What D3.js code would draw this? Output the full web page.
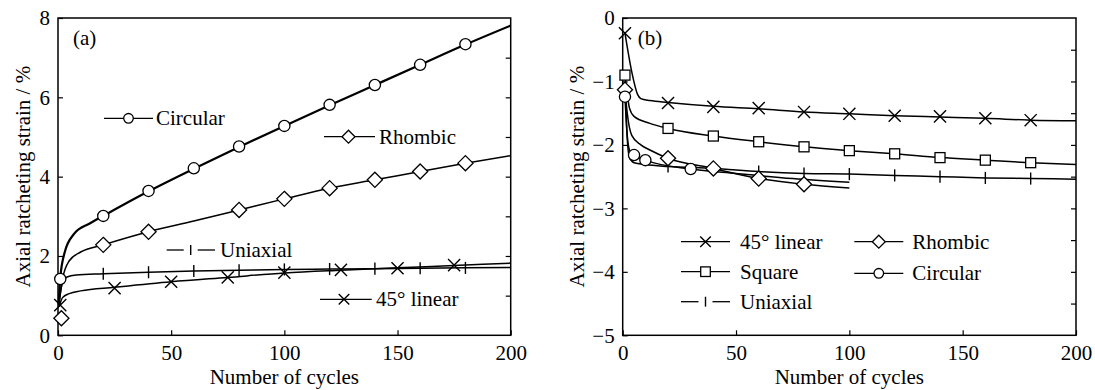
<!DOCTYPE html>
<meta charset="utf-8">
<script src="https://d3js.org/d3.v7.min.js"></script>
<style>
  body { margin: 0; background: #fff; }
</style>
<body>
<div id="chart"></div>
<script>

// ---- panel (a) data : [cycle, axial ratcheting strain %] ----
var circA_line = [[0.3,0.78],[1,1.45],[3,2.1],[7,2.55],[14,2.82],[20,3.01],[40,3.63],[60,4.2],[80,4.75],[100,5.28],[120,5.8],[140,6.31],[160,6.82],[180,7.33],[200,7.81]];
var circA_pts  = [[1,1.42],[20,3.01],[40,3.64],[60,4.21],[80,4.76],[100,5.28],[120,5.81],[140,6.31],[160,6.82],[180,7.34]];
var rhomA_line = [[0.3,0.72],[2,1.42],[5,1.88],[10,2.1],[20,2.28],[40,2.61],[60,2.88],[80,3.16],[100,3.44],[120,3.71],[140,3.92],[160,4.13],[180,4.34],[200,4.53]];
var rhomA_pts  = [[1.5,0.43],[20,2.28],[40,2.61],[80,3.16],[100,3.44],[120,3.71],[140,3.92],[160,4.13],[180,4.34]];
var uniA_line  = [[0.3,0.72],[1,1.05],[2,1.32],[4,1.47],[8,1.52],[20,1.55],[40,1.59],[60,1.62],[80,1.64],[100,1.66],[120,1.67],[140,1.68],[160,1.69],[180,1.70],[200,1.71]];
var uniA_pts   = [[20,1.55],[40,1.59],[60,1.62],[80,1.64],[100,1.66],[120,1.67],[140,1.68],[160,1.69],[180,1.70]];
var linA_line  = [[0.5,0.72],[2,0.95],[5,1.05],[10,1.12],[25,1.21],[50,1.35],[75,1.46],[100,1.57],[125,1.64],[150,1.70],[175,1.76],[200,1.82]];
var linA_pts   = [[1,0.76],[25,1.19],[50,1.35],[75,1.46],[100,1.58],[125,1.65],[150,1.69],[175,1.77]];

// ---- panel (b) data ----
var linB_line  = [[1,-0.24],[4,-0.85],[6.5,-1.2],[8,-1.27],[12,-1.3],[20,-1.33],[40,-1.39],[60,-1.43],[80,-1.48],[100,-1.51],[120,-1.54],[140,-1.56],[160,-1.58],[180,-1.61],[200,-1.62]];
var linB_pts   = [[1,-0.24],[20,-1.34],[40,-1.40],[60,-1.42],[80,-1.48],[100,-1.51],[120,-1.54],[140,-1.55],[160,-1.58],[180,-1.61]];
var sqB_line   = [[1,-0.9],[2,-1.2],[3,-1.42],[5,-1.55],[12,-1.66],[20,-1.74],[40,-1.86],[60,-1.95],[80,-2.03],[100,-2.09],[120,-2.14],[140,-2.2],[160,-2.24],[180,-2.28],[200,-2.31]];
var sqB_pts    = [[1,-0.9],[20,-1.74],[40,-1.86],[60,-1.95],[80,-2.03],[100,-2.09],[120,-2.14],[140,-2.2],[160,-2.24],[180,-2.28]];
var uniB_line  = [[1,-1.0],[2,-1.9],[3,-2.2],[5,-2.28],[10,-2.31],[20,-2.34],[40,-2.37],[60,-2.42],[80,-2.45],[100,-2.46],[120,-2.48],[140,-2.5],[160,-2.52],[180,-2.53],[200,-2.54]];
var uniB_pts   = [[20,-2.34],[40,-2.37],[60,-2.42],[80,-2.45],[100,-2.46],[120,-2.48],[140,-2.5],[160,-2.52],[180,-2.53]];
var rhomB_line = [[1,-1.13],[2,-1.5],[4,-1.85],[8,-2.0],[12,-2.08],[20,-2.21],[40,-2.37],[60,-2.53],[80,-2.62],[100,-2.68]];
var rhomB_pts  = [[1,-1.13],[20,-2.21],[40,-2.37],[60,-2.53],[80,-2.62]];
var circB_line = [[1,-1.24],[2,-1.85],[3,-2.08],[5,-2.16],[10,-2.24],[30,-2.38],[50,-2.45],[75,-2.53],[100,-2.59]];
var circB_pts  = [[1,-1.24],[5,-2.16],[10,-2.24],[30,-2.38]];

// ticks
var xTicks   = [0, 50, 100, 150, 200];
var yTicksA  = [0, 2, 4, 6, 8];
var yMinorA  = [1, 2, 3, 4, 5, 6, 7];
var yTicksB  = [0, -1, -2, -3, -4, -5];
var yMinorB  = [-0.5, -1, -1.5, -2, -2.5, -3, -3.5, -4, -4.5];

var FONT = "'Liberation Serif'";

var svg = d3.select("#chart").append("svg")
    .attr("width", 1095)
    .attr("height", 390);

// minus sign as in the figure
function fmt(d) { return d < 0 ? "\u2212" + Math.abs(d) : String(d); }

// all text in the same serif face
function addText(g, x, y, str) {
  return g.append("text")
    .attr("x", x).attr("y", y)
    .style("font-family", FONT)
    .style("font-size", "21px")
    .attr("fill", "#000")
    .text(str);
}

// draw one marker of a given kind at (cx, cy)
function marker(g, kind, cx, cy, s) {
  if (kind == "circle") {
    g.append("circle").attr("cx", cx).attr("cy", cy).attr("r", s)
      .attr("fill", "#fff").attr("stroke", "#000").attr("stroke-width", 1.3);
  } else if (kind == "diamond") {
    var d = s * 1.35;
    g.append("path")
      .attr("d", "M" + cx + "," + (cy - d) + "L" + (cx + d) + "," + cy + "L" + cx + "," + (cy + d) + "L" + (cx - d) + "," + cy + "Z")
      .attr("fill", "#fff").attr("stroke", "#000").attr("stroke-width", 1.3);
  } else if (kind == "square") {
    g.append("rect").attr("x", cx - s).attr("y", cy - s).attr("width", 2 * s).attr("height", 2 * s)
      .attr("fill", "#fff").attr("stroke", "#000").attr("stroke-width", 1.3);
  } else if (kind == "x") {
    var k = s * 1.1;
    g.append("path")
      .attr("d", "M" + (cx - k) + "," + (cy - k) + "L" + (cx + k) + "," + (cy + k) + "M" + (cx - k) + "," + (cy + k) + "L" + (cx + k) + "," + (cy - k))
      .attr("fill", "none").attr("stroke", "#000").attr("stroke-width", 1.4);
  } else if (kind == "bar") {
    g.append("line").attr("x1", cx).attr("x2", cx).attr("y1", cy - s * 1.1).attr("y2", cy + s * 1.1)
      .attr("stroke", "#000").attr("stroke-width", 1.4);
  }
}

function styleAxis(a) {
  a.select(".domain").remove();
  a.selectAll("text")
    .style("font-family", FONT)
    .style("font-size", "21px")
    .attr("fill", "#000");
}

function drawPanel(p) {
  var x = d3.scaleLinear().domain([0, 200]).range([p.left, p.right]);
  var y = d3.scaleLinear().domain(p.yDomain).range([p.bottom, p.top]);
  var g = svg.append("g");

  // left axis, ticks pointing inward
  g.append("g")
    .attr("transform", "translate(" + p.left + ",0)")
    .call(d3.axisLeft(y).tickValues(p.yTicks).tickFormat(fmt).tickSizeInner(-5).tickSizeOuter(0).tickPadding(8))
    .call(styleAxis);

  // right axis, minor ticks only
  g.append("g")
    .attr("transform", "translate(" + p.right + ",0)")
    .call(d3.axisRight(y).tickValues(p.yMinor).tickSizeInner(-5).tickSizeOuter(0).tickFormat(""))
    .call(styleAxis);

  // bottom axis
  g.append("g")
    .attr("transform", "translate(0," + p.bottom + ")")
    .call(d3.axisBottom(x).tickValues(xTicks).tickFormat(fmt).tickSizeInner(-5).tickSizeOuter(0).tickPadding(10))
    .call(styleAxis);

  g.selectAll(".tick line").attr("stroke-width", 1.2);

  // frame
  g.append("rect")
    .attr("x", p.left).attr("y", p.top)
    .attr("width", p.right - p.left).attr("height", p.bottom - p.top)
    .attr("fill", "none").attr("stroke", "#000").attr("stroke-width", 1.5);

  var line = d3.line()
    .x(function(d) { return x(d[0]); })
    .y(function(d) { return y(d[1]); })
    .curve(d3.curveMonotoneX);

  p.series.forEach(function(s) {
    g.append("path")
      .datum(s.line)
      .attr("fill", "none")
      .attr("stroke", "#000")
      .attr("stroke-width", s.width || 1.5)
      .attr("d", line);
  });
  p.series.forEach(function(s) {
    s.pts.forEach(function(d) { marker(g, s.kind, x(d[0]), y(d[1]), s.size); });
  });

  // legend entries
  p.legend.forEach(function(l) {
    if (l.kind == "bar") {
      g.append("line").attr("x1", l.x0).attr("x2", l.xm - 7).attr("y1", l.y).attr("y2", l.y).attr("stroke", "#000").attr("stroke-width", 1.3);
      g.append("line").attr("x1", l.xm + 7).attr("x2", l.x1).attr("y1", l.y).attr("y2", l.y).attr("stroke", "#000").attr("stroke-width", 1.3);
    } else {
      g.append("line").attr("x1", l.x0).attr("x2", l.x1).attr("y1", l.y).attr("y2", l.y).attr("stroke", "#000").attr("stroke-width", 1.3);
    }
    marker(g, l.kind, l.xm, l.y, l.kind == "bar" ? 4.5 : 4.8);
    addText(g, l.tx, l.y, l.label).attr("dy", "0.33em");
  });

  // panel tag
  addText(g, p.left + 15, 45, p.tag);

  // axis titles
  addText(g, (p.left + p.right) / 2, 384, "Number of cycles")
    .attr("text-anchor", "middle");
  addText(g, 0, 0, "Axial ratcheting strain / %")
    .attr("text-anchor", "middle")
    .attr("transform", "translate(" + p.ylabX + "," + ((p.top + p.bottom) / 2) + ") rotate(-90)")
    .attr("dy", "0.35em");
}

drawPanel({
  tag: "(a)", left: 58, right: 510.7, top: 18, bottom: 335.3, ylabX: 23,
  yDomain: [0, 8], yTicks: yTicksA, yMinor: yMinorA,
  series: [
    { line: circA_line, pts: circA_pts, kind: "circle", size: 5.6, width: 2.2 },
    { line: rhomA_line, pts: rhomA_pts, kind: "diamond", size: 5.6 },
    { line: uniA_line, pts: uniA_pts, kind: "bar", size: 5.5 },
    { line: linA_line, pts: linA_pts, kind: "x", size: 5.5 }
  ],
  legend: [
    { kind: "circle", x0: 104, x1: 153, xm: 128.5, y: 118.3, tx: 156, label: "Circular" },
    { kind: "diamond", x0: 324, x1: 375, xm: 348.5, y: 136.7, tx: 379, label: "Rhombic" },
    { kind: "bar", x0: 166.7, x1: 215, xm: 190.7, y: 250, tx: 220, label: "Uniaxial" },
    { kind: "x", x0: 320, x1: 371.7, xm: 344, y: 299.3, tx: 376, label: "45° linear" }
  ]
});

drawPanel({
  tag: "(b)", left: 622.7, right: 1076, top: 18, bottom: 335.3, ylabX: 577,
  yDomain: [-5, 0], yTicks: yTicksB, yMinor: yMinorB,
  series: [
    { line: linB_line, pts: linB_pts, kind: "x", size: 5.5 },
    { line: sqB_line, pts: sqB_pts, kind: "square", size: 5 },
    { line: uniB_line, pts: uniB_pts, kind: "bar", size: 5.5 },
    { line: rhomB_line, pts: rhomB_pts, kind: "diamond", size: 5.6 },
    { line: circB_line, pts: circB_pts, kind: "circle", size: 5.6 }
  ],
  legend: [
    { kind: "x", x0: 681, x1: 730, xm: 705.5, y: 241.7, tx: 740, label: "45° linear" },
    { kind: "square", x0: 681, x1: 730, xm: 705.5, y: 271.7, tx: 740, label: "Square" },
    { kind: "bar", x0: 681, x1: 730, xm: 705.5, y: 301.7, tx: 740, label: "Uniaxial" },
    { kind: "diamond", x0: 854.3, x1: 903.3, xm: 878.8, y: 241.7, tx: 912.3, label: "Rhombic" },
    { kind: "circle", x0: 854.3, x1: 903.3, xm: 878.8, y: 273.3, tx: 912.3, label: "Circular" }
  ]
});

</script>
</body>
